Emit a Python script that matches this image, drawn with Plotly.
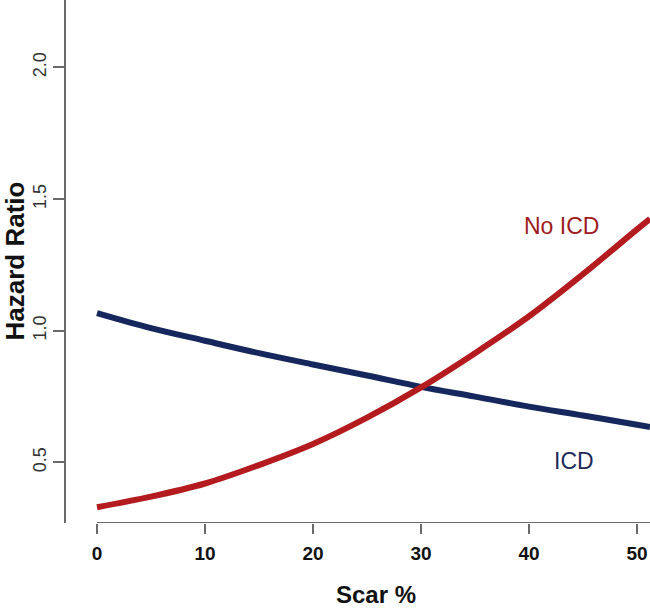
import plotly.graph_objects as go

scar = [0, 5, 10, 15, 20, 25, 30, 35, 40, 45, 50, 51.2]
no_icd = [0.33, 0.37, 0.42, 0.49, 0.57, 0.67, 0.785, 0.915, 1.055, 1.215, 1.385, 1.425]
icd = [1.067, 1.01, 0.962, 0.915, 0.872, 0.83, 0.787, 0.75, 0.712, 0.678, 0.643, 0.634]
x_ticks = [0, 10, 20, 30, 40, 50]
y_ticks = [0.5, 1.0, 1.5, 2.0]
y_tick_labels = ["0.5", "1.0", "1.5", "2.0"]

RED = "#B31B1F"
NAVY = "#15275C"
AX = "#6A6A6A"
FONT = "Liberation Sans, Arial, sans-serif"

X0, X1 = -2.87, 51.2
Y0, Y1 = 0.27, 2.256

fig = go.Figure()
fig.add_trace(go.Scatter(x=scar, y=icd, mode="lines", line=dict(color=NAVY, width=6, shape="spline"),
                         showlegend=False, hoverinfo="skip"))
fig.add_trace(go.Scatter(x=scar, y=no_icd, mode="lines", line=dict(color=RED, width=6, shape="spline"),
                         showlegend=False, hoverinfo="skip"))

# x axis line (from 0 to right edge)
fig.add_shape(type="line", xref="x", yref="y", x0=0, x1=X1, y0=Y0, y1=Y0,
              line=dict(color=AX, width=2))

fig.add_annotation(x=43.0, y=1.397, text="No ICD", showarrow=False,
                   font=dict(family=FONT, size=23, color="#9E1B22"))
fig.add_annotation(x=44.2, y=0.507, text="ICD", showarrow=False,
                   font=dict(family=FONT, size=23, color="#1E2B5A"))

fig.add_annotation(xref="paper", yref="paper", x=0.53, y=-0.136, text="<b>Scar %</b>", showarrow=False,
                   font=dict(family=FONT, size=24, color="#111111"), yanchor="middle")
fig.add_annotation(xref="paper", yref="paper", x=-0.089, y=0.5, text="<b>Hazard Ratio</b>", showarrow=False,
                   textangle=-90, font=dict(family=FONT, size=26, color="#111111"), xanchor="center",
                   yanchor="middle")

fig.update_layout(
    width=650, height=608,
    margin=dict(l=66, r=0, t=0, b=85, autoexpand=False),
    plot_bgcolor="white", paper_bgcolor="white",
    xaxis=dict(range=[X0, X1], tickvals=x_ticks, ticktext=[f"<b>{v}</b>" for v in x_ticks],
               ticks="outside", ticklen=10, tickcolor=AX, tickwidth=2,
               showline=False, showgrid=False, zeroline=False, automargin=False,
               ticklabelstandoff=3,
               tickfont=dict(family=FONT, size=19, color="#111111")),
    yaxis=dict(range=[Y0, Y1], tickvals=y_ticks, ticktext=y_tick_labels, tickangle=-90,
               ticks="outside", ticklen=11, tickcolor=AX, tickwidth=2,
               showline=True, linecolor=AX, linewidth=2, automargin=False,
               showgrid=False, zeroline=False,
               tickfont=dict(family=FONT, size=18, color="#333333")),
)

fig.write_html("out.html", config={"displayModeBar": False, "staticPlot": True},
               post_script="document.body.style.margin='0';document.body.style.overflow='hidden';")
